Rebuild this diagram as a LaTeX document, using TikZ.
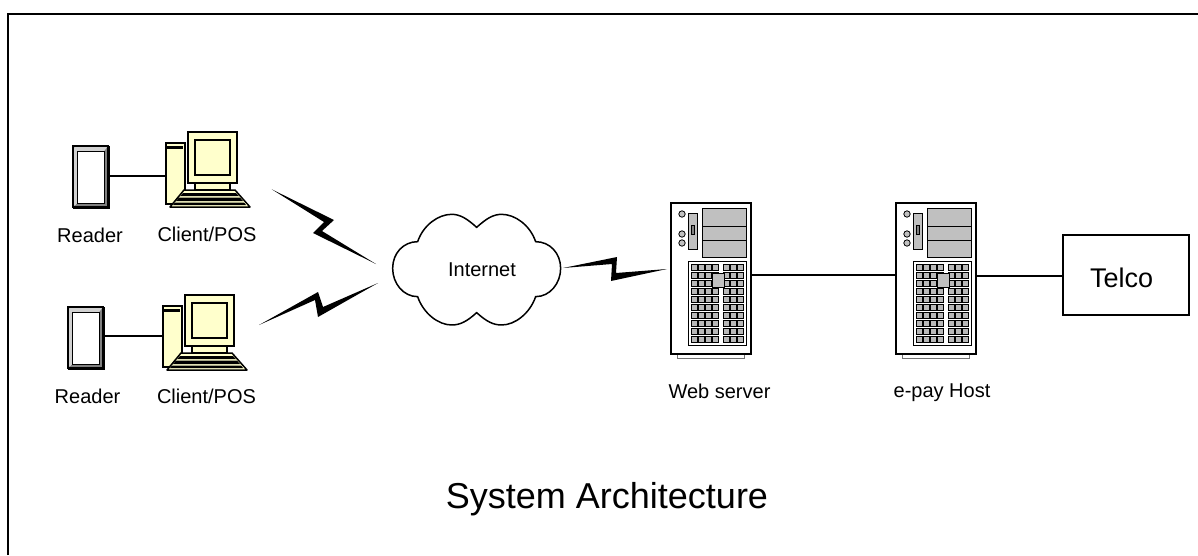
\documentclass[tikz,border=0pt]{standalone}
\usepackage{fontspec}
\setmainfont{Liberation Sans}
\definecolor{pcyellow}{HTML}{FFFFCC}
\definecolor{baygray}{HTML}{C0C0C0}
\definecolor{cellgray}{HTML}{B8B8B8}
\tikzset{
  ln/.style={draw=black,line width=1.5pt},
  thin ln/.style={draw=black,line width=1pt},
  wire/.style={draw=black,line width=1.5pt},
  bolt/.style={fill=black,draw=none},
  lbl/.style={inner sep=0pt,anchor=base,font=\fontsize{20}{24}\selectfont},
  box/.style={rectangle,inner sep=0pt,anchor=north west,line width=1.5pt,draw=black},
}
\newcommand{\readericon}[3]{% x y name
  \begin{scope}[shift={(#1,#2)}]
    \node[box,minimum width=35pt,minimum height=61pt,fill=white] (#3) at (0,0) {};
    \fill[black!50] (35,0) -- (31,5) -- (31,57) -- (4,57) -- (0,61) -- (35,61) -- cycle;
    \fill[black!18] (0,0) -- (4,5) -- (31,5) -- (35,0) -- cycle;
    \fill[black!18] (0,0) -- (4,5) -- (4,57) -- (0,61) -- cycle;
    \draw[thin ln,fill=white] (4,5) rectangle (31,57);
    \draw[ln] (0,0) rectangle (35,61);
  \end{scope}
}
\newcommand{\pcicon}[3]{% x y name: origin is tower top-left
  \begin{scope}[shift={(#1,#2)}]
    \node[box,minimum width=19pt,minimum height=61pt,fill=pcyellow] (#3) at (0,0) {};
    \fill (1,4) rectangle (18,7);
    \draw[ln,fill=pcyellow] (30,41) rectangle (65,48);
    \draw[ln,fill=pcyellow] (23,-10) rectangle (72,41);
    \draw[ln,fill=pcyellow] (30,-2) rectangle (65,33);
    \draw[ln,fill=pcyellow,line join=round] (19,48) -- (70,48) -- (85,65) -- (5,65) -- cycle;
    \fill (18,51) -- (71,51) -- (74,54) -- (15,54) -- cycle;
    \fill (14,55.5) -- (75,55.5) -- (78,59) -- (11,59) -- cycle;
    \fill (10,60.5) -- (79,60.5) -- (81,63) -- (8,63) -- cycle;
  \end{scope}
}
\newcommand{\servericon}[3]{% x y name
  \begin{scope}[shift={(#1,#2)}]
    \draw[draw=black!55,line width=1pt,fill=white] (7,151) -- (7,156) -- (74,156) -- (74,151);
    \node[box,minimum width=80pt,minimum height=151pt,fill=white] (#3) at (0,0) {};
    \draw[line width=.8pt,fill=baygray] (32,6) rectangle (76,55);
    \draw[line width=1pt] (32,24) -- (76,24) (32,38) -- (76,38);
    \foreach \cy in {12,32,41} \draw[line width=.8pt,fill=baygray] (12,\cy) circle (3.2);
    \draw[line width=.8pt,fill=baygray] (18,11) rectangle (27,47);
    \draw[line width=.8pt,fill=black!50] (21,23) rectangle (24,32);
    \draw[line width=.8pt,fill=white] (18,59) rectangle (76,143);
    \foreach \r in {0,...,9} {
      \foreach \c in {0,1,2,3}
        \draw[line width=.7pt,fill=cellgray] ({21.5+\c*7},{62.5+\r*8}) rectangle ++(5.6,5.6);
      \foreach \c in {0,1,2}
        \draw[line width=.7pt,fill=cellgray] ({53.5+\c*7},{62.5+\r*8}) rectangle ++(5.6,5.6);
    }
    \draw[line width=1pt,fill=baygray] (42,71) rectangle (54,85);
  \end{scope}
}
\begin{document}
\begin{tikzpicture}[x=1pt,y=-1pt]
\useasboundingbox (0,0) rectangle (1198,555);
\fill[white] (0,0) rectangle (1198,555);
\coordinate (fa) at (8,555);
\coordinate (fb) at (8,14);
\coordinate (fc) at (1198,14);
\draw[line width=1.6pt] (fa) -- (fb) -- (fc);

\readericon{73}{146}{r1}
\pcicon{165}{142}{p1}
\readericon{68}{307}{r2}
\pcicon{162}{305}{p2}
\servericon{670}{202}{s1}
\servericon{895}{202}{s2}
\node[rectangle,draw=black,line width=1.5pt,inner sep=0pt,minimum width=126pt,minimum height=80pt,anchor=north west] (telco) at (1062,234) {};
\node[lbl,font=\fontsize{27}{30}\selectfont] (tt) at (1121.5,287) {Telco};

\draw[wire] ([yshift=1.5pt]r1.east) -- ([yshift=1.5pt]r1.east -| p1.west);
\draw[wire] ([yshift=2.5pt]r2.east) -- ([yshift=2.5pt]r2.east -| p2.west);
\draw[wire] ([yshift=3.5pt]s1.east) -- ([yshift=3.5pt]s1.east -| s2.west);
\draw[wire] ([yshift=2.5pt]s2.east) -- ([yshift=2.5pt]s2.east -| telco.west);

% cloud
\draw[line width=1.5pt,fill=white,shift={(250,170)},x=.3333pt,y=-.3333pt]
  (680,172) .. controls (650,145) and (630,133) .. (605,133)
  .. controls (565,133) and (520,165) .. (503,215)
  .. controls (460,215) and (428,250) .. (428,295)
  .. controls (428,340) and (460,380) .. (503,380)
  .. controls (520,430) and (565,465) .. (605,465)
  .. controls (630,465) and (650,455) .. (680,428)
  .. controls (710,455) and (730,465) .. (755,465)
  .. controls (795,465) and (840,430) .. (857,380)
  .. controls (900,380) and (932,340) .. (932,295)
  .. controls (932,250) and (900,215) .. (857,215)
  .. controls (840,165) and (795,133) .. (755,133)
  .. controls (730,133) and (710,145) .. (680,172) -- cycle;
\node[lbl] (inet) at (482,276) {Internet};

% bolts
\fill[bolt] (271.7,189.3) -- (334,220) -- (322,231) -- (376,264) -- (313,233) -- (324,222) -- cycle;
\fill[bolt] (259,325) -- (318,292) -- (323,307) -- (378,283) -- (318,317) -- (315,300) -- cycle;
\fill[bolt] (563,268) -- (617,257) -- (616,273) -- (667,269) -- (611,281) -- (612,264) -- cycle;

\node[lbl] (l1) at (90,242) {Reader};
\node[lbl] (l2) at (207,241) {Client/POS};
\node[lbl] (l3) at (87.5,403) {Reader};
\node[lbl] (l4) at (206.5,403) {Client/POS};
\node[lbl] (l5) at (719.5,398) {Web server};
\node[lbl] (l6) at (942,397) {e-pay Host};
\node[lbl,font=\fontsize{36}{40}\selectfont] (title) at (607,508) {System Architecture};
\end{tikzpicture}
\end{document}
